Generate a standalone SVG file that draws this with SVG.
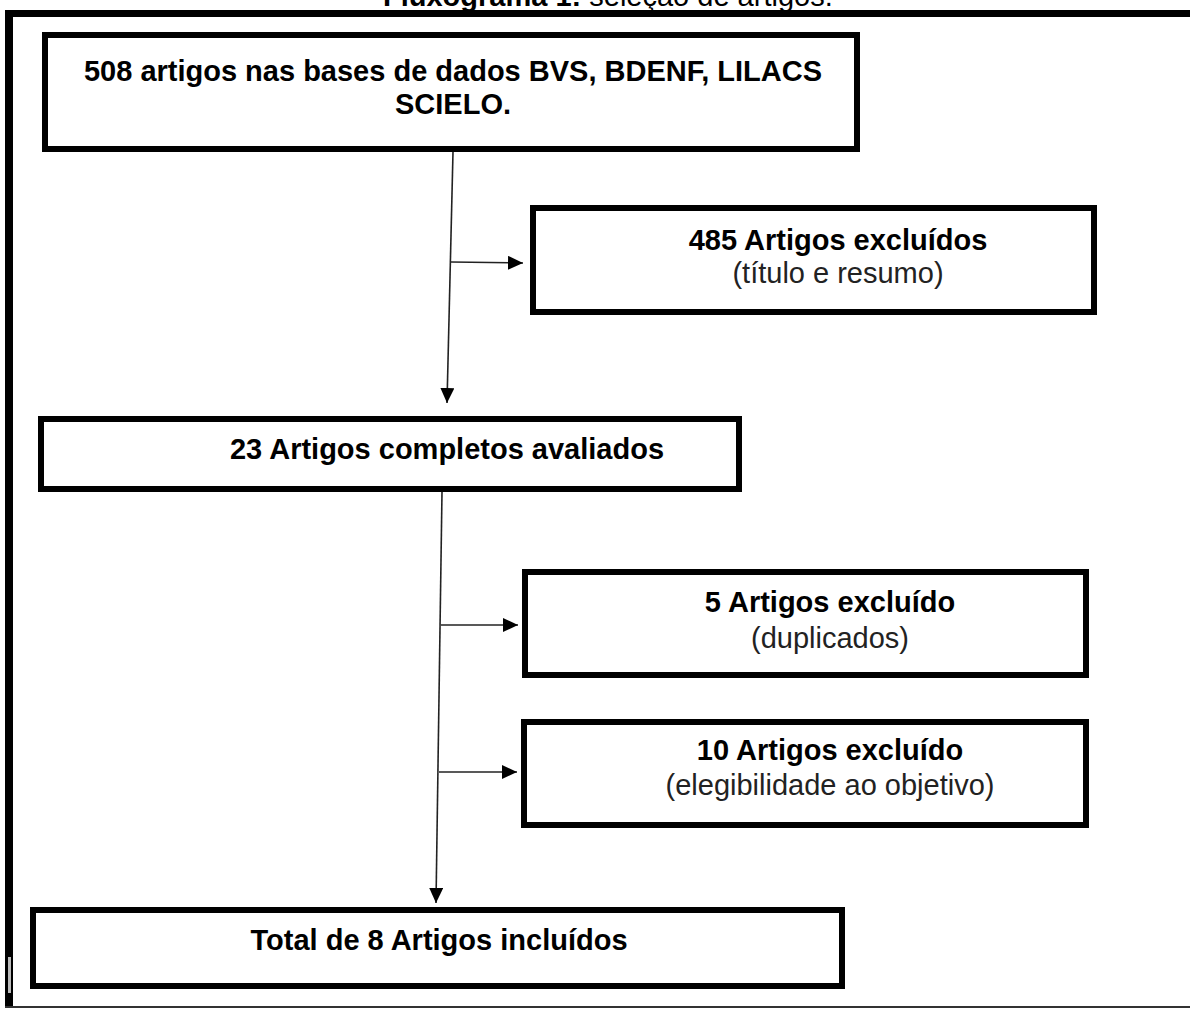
<svg xmlns="http://www.w3.org/2000/svg" width="1190" height="1010" viewBox="0 0 1190 1010">
<style>
.box{fill:#fff;stroke:#000;stroke-width:6}
.b{font-family:"Liberation Sans",Arial,sans-serif;font-weight:bold;font-size:29px;fill:#000}
.r{font-family:"Liberation Sans",Arial,sans-serif;font-size:29px;fill:#222}
.c{fill:none;stroke:#222;stroke-width:1.6}
</style>
<defs>
<marker id="ah" markerUnits="userSpaceOnUse" markerWidth="16" markerHeight="14" refX="15" refY="7" orient="auto">
<path d="M0,0 L15,7 L0,14 z" fill="#000"/>
</marker>
</defs>
<rect width="1190" height="1010" fill="#fff"/>
<g id="title">
<text x="383" y="6" class="b">Fluxograma 1:<tspan class="r" style="font-weight:normal;fill:#000"> seleção de artigos.</tspan></text>
</g>
<g id="frame">
<rect x="5" y="10" width="1185" height="7" fill="#000"/>
<rect x="5" y="10" width="8" height="998" fill="#000"/>
<rect x="8" y="957" width="3" height="36" fill="#bbb"/>
<rect x="5" y="1006" width="1185" height="2" fill="#333"/>
</g>
<g id="connectors">
<line class="c" x1="453" y1="152" x2="447" y2="403" marker-end="url(#ah)"/>
<line class="c" x1="451" y1="262" x2="523" y2="263" marker-end="url(#ah)"/>
<line class="c" x1="442" y1="492" x2="436" y2="903" marker-end="url(#ah)"/>
<line class="c" x1="441" y1="625" x2="518" y2="625" marker-end="url(#ah)"/>
<line class="c" x1="439" y1="772" x2="517" y2="772" marker-end="url(#ah)"/>
</g>
<g id="n1">
<rect class="box" x="45" y="35" width="812" height="114"/>
<text class="b" x="453" y="81" text-anchor="middle">508 artigos nas bases de dados BVS, BDENF, LILACS</text>
<text class="b" x="453" y="114" text-anchor="middle">SCIELO.</text>
</g>
<g id="n2">
<rect class="box" x="533" y="208" width="561" height="104"/>
<text class="b" x="838" y="250" text-anchor="middle">485 Artigos excluídos</text>
<text class="r" x="838" y="283" text-anchor="middle">(título e resumo)</text>
</g>
<g id="n3">
<rect class="box" x="41" y="419" width="698" height="70"/>
<text class="b" x="447" y="459" text-anchor="middle">23 Artigos completos avaliados</text>
</g>
<g id="n4">
<rect class="box" x="525" y="572" width="561" height="103"/>
<text class="b" x="830" y="612" text-anchor="middle">5 Artigos excluído</text>
<text class="r" x="830" y="648" text-anchor="middle">(duplicados)</text>
</g>
<g id="n5">
<rect class="box" x="524" y="722" width="562" height="103"/>
<text class="b" x="830" y="760" text-anchor="middle">10 Artigos excluído</text>
<text class="r" x="830" y="795" text-anchor="middle">(elegibilidade ao objetivo)</text>
</g>
<g id="n6">
<rect class="box" x="33" y="910" width="809" height="76"/>
<text class="b" x="439" y="950" text-anchor="middle">Total de 8 Artigos incluídos</text>
</g>
</svg>
